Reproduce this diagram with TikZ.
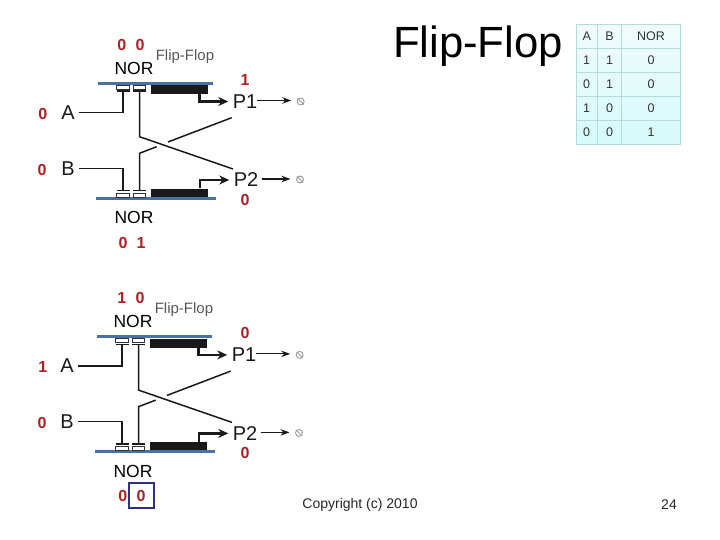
\documentclass[tikz,border=0pt]{standalone}
\usepackage{fontspec}
\setmainfont{Liberation Sans}
\usetikzlibrary{arrows.meta,calc}
\definecolor{barblue}{HTML}{4A70A8}
\definecolor{bitred}{HTML}{B02020}
\definecolor{boxblue}{HTML}{2E3285}
\definecolor{tabline}{HTML}{B4DCDC}
\definecolor{tabtop}{HTML}{F0FCFC}
\definecolor{tabbot}{HTML}{D6FAFA}
\definecolor{tabtext}{HTML}{333333}
\definecolor{ink}{HTML}{1A1A1A}
\tikzset{
  every node/.style={inner sep=0pt,outer sep=0pt},
  bit/.style={text=bitred,font=\fontsize{16}{18}\selectfont\bfseries},
  norlabel/.style={text=black,font=\fontsize{17.5}{19}\selectfont},
  pinlabel/.style={text=ink,inner xsep=4.5pt,font=\fontsize{20}{22}\selectfont},
  fftitle/.style={text=black!65,font=\fontsize{15}{17}\selectfont},
  bar/.style={draw=none,fill=barblue,minimum height=3pt},
  block/.style={draw=none,fill=black!90,minimum width=57pt},
  contact/.style={draw=black!80,fill=white,line width=0.7pt,minimum width=12.4pt,minimum height=4pt},
  wire/.style={draw=ink,line width=1.5pt},
  outwire/.style={draw=ink,line width=2.4pt,-{Stealth[length=10pt,width=9pt]}},
  thinout/.style={draw=ink,line width=1.1pt,shorten >=6pt,-{Stealth[length=9pt,width=6.5pt]}},
  term/.style={circle,draw=black!40,line width=0.9pt,minimum size=7pt},
  cell/.style={text=tabtext,font=\fontsize{12.5}{14}\selectfont},
  big/.style={text=black,font=\fontsize{43.7}{46}\selectfont},
  foot/.style={text=black!85,font=\fontsize{14}{16}\selectfont},
}
\newcommand{\latchpart}{%
  \node[bar,minimum width=115pt] (topbar) at (155.5,83.5) {};
  \node[bar,minimum width=120pt] (botbar) at (156,198.3) {};
  \node[block,minimum height=9pt] (topblock) at (179.3,89.8) {};
  \node[block,minimum height=8.5pt] (botblock) at (179.3,192.8) {};
  \node[contact] (ca) at (123,87) {};
  \node[contact] (cb) at (139.5,87) {};
  \node[contact] (cc) at (123,195) {};
  \node[contact] (cd) at (139.5,195) {};
  \coordinate (ra) at (123,91); \coordinate (rb) at (139.5,91);
  \coordinate (rc) at (123,190.5); \coordinate (rd) at (139.5,190.5);
  \draw[line width=1.8pt,draw=ink] ($(ra)+(-6.5,0)$) -- ($(ra)+(6.5,0)$);
  \draw[line width=1.8pt,draw=ink] ($(rb)+(-6.5,0)$) -- ($(rb)+(6.5,0)$);
  \draw[line width=1.8pt,draw=ink] ($(rc)+(-6.5,0)$) -- ($(rc)+(6.5,0)$);
  \draw[line width=1.8pt,draw=ink] ($(rd)+(-6.5,0)$) -- ($(rd)+(6.5,0)$);
  \node[pinlabel] (A) at (68,112.7) {A};
  \node[pinlabel] (B) at (68,168.3) {B};
  \node[pinlabel] (P1) at (245,101.5) {P1};
  \node[pinlabel] (P2) at (246,180) {P2};
  \node[term] (t1) at (300.7,101.5) {};
  \node[term] (t2) at (300,179.5) {};
  \draw[black!40,line width=0.8pt] ($(t1)+(-3,-3)$) -- ($(t1)+(3,3)$);
  \draw[black!40,line width=0.8pt] ($(t2)+(-3,-3)$) -- ($(t2)+(3,3)$);
  \node[fftitle] (ff) at (185,56.7) {Flip-Flop};
  \draw[wire] (A.east) -| (ra);
  \draw[wire] (B.east) -| (rc);
  \coordinate (k1) at (139.5,136.7);
  \coordinate (k2) at (139.5,153.3);
  \coordinate (k3) at (156.7,146.7);
  \coordinate (k4) at (168,142);
  \coordinate (e1) at (233,169);
  \coordinate (e2) at (231.7,117.7);
  \draw[wire] (rb) -- (k1) -- (e1);
  \draw[wire] (rd) -- (k2) -- (k3);
  \draw[wire] (k4) -- (e2);
  \coordinate (o1) at (199.5,94);
  \coordinate (o2) at (200,188.5);
  \draw[outwire] (o1) |- (P1.west);
  \draw[outwire] (o2) |- (P2.west);
  \coordinate (s1) at ($(P1.east)+(-4.5,-1)$);
  \coordinate (s2) at ($(P2.east)+(-1,-1)$);
  \draw[thinout] (s1) -- (t1.west |- s1);
  \draw[thinout] (s2) -- (t2.west |- s2);
}
\begin{document}
\begin{tikzpicture}[x=1pt,y=-1pt]
\useasboundingbox[fill=white] (0,0) rectangle (720,540);
\begin{scope}[name prefix=u-]
  \latchpart
  \node[norlabel] (nt) at (134,68.5) {NOR};
  \node[norlabel] (nb) at (134,217.7) {NOR};
  \node[bit] (a1) at (121.7,45) {0};
  \node[bit] (a2) at (140,45) {0};
  \node[bit] (a3) at (42.7,114) {0};
  \node[bit] (a4) at (42,170) {0};
  \node[bit] (a5) at (245,80) {1};
  \node[bit] (a6) at (245,200) {0};
  \node[bit] (a7) at (123,243) {0};
  \node[bit] (a8) at (141,243) {1};
\end{scope}
\begin{scope}[name prefix=v-,shift={(-1,253.4)}]
  \latchpart
  \node[norlabel] (nt) at (134,68.5) {NOR};
  \node[norlabel] (nb) at (134,217.7) {NOR};
\end{scope}
\node[bit] (b1) at (121.7,297.5) {1};
\node[bit] (b2) at (140,297.5) {0};
\node[bit] (b3) at (42.7,366.5) {1};
\node[bit] (b4) at (42,422.7) {0};
\node[bit] (b5) at (245,333) {0};
\node[bit] (b6) at (245,453) {0};
\node[bit] (b7) at (122.7,496) {0};
\node[bit] (b8) at (141,496) {0};
\node[draw=boxblue,line width=2.2pt,minimum width=25pt,minimum height=25pt] (hl) at (141.3,495.3) {};
\node[big] (title) at (478,46) {Flip-Flop};
\node[foot] (copy) at (360,505) {Copyright (c) 2010};
\node[foot] (page) at (669,505) {24};
\shade[top color=tabtop,bottom color=tabbot] (576,24.3) rectangle (680.7,144.5);
\draw[tabline,line width=1pt] (576,24.3) rectangle (680.7,144.5);
\foreach \yy in {48.3,72.3,96.5,120.5} \draw[tabline,line width=1pt] (576,\yy) -- (680.7,\yy);
\foreach \xx in {597.3,621.7} \draw[tabline,line width=1pt] (\xx,24.3) -- (\xx,144.5);
\node[cell] (h1) at (586.7,36) {A};
\node[cell] (h2) at (609.5,36) {B};
\node[cell] (h3) at (651,36) {NOR};
\foreach \rr/\aa/\bb/\cc/\yy in {1/1/1/0/60,2/0/1/0/84,3/1/0/0/108.5,4/0/0/1/132.5}{
  \node[cell] (r\rr a) at (586.7,\yy) {\aa};
  \node[cell] (r\rr b) at (609.5,\yy) {\bb};
  \node[cell] (r\rr c) at (651,\yy) {\cc};
}
\end{tikzpicture}
\end{document}
